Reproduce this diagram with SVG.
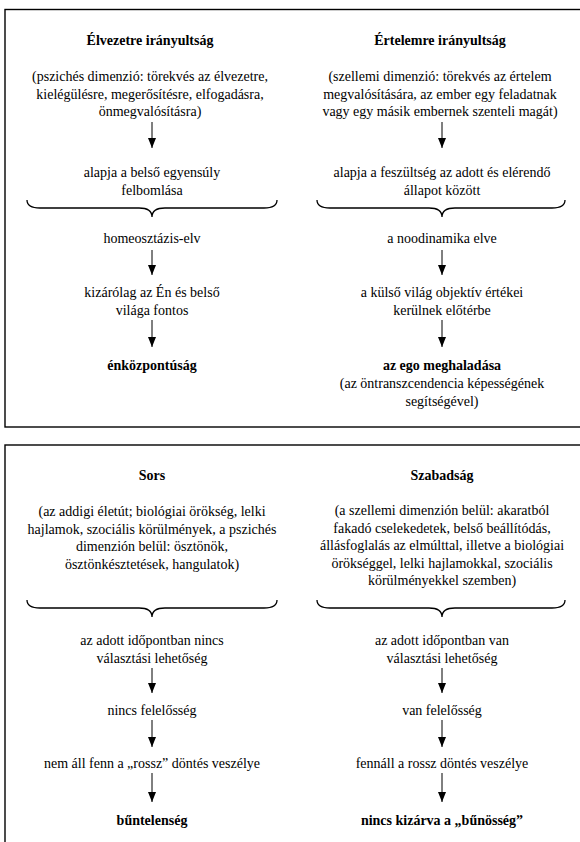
<svg xmlns="http://www.w3.org/2000/svg" width="580" height="842" viewBox="0 0 580 842">
<style>
text{font-family:"Liberation Serif","Times New Roman",serif;font-size:14px;fill:#000;text-anchor:middle}
.b{font-weight:bold}
.frame{fill:none;stroke:#000;stroke-width:1.4}
.brace{fill:none;stroke:#000;stroke-width:1.3}
.arr{stroke:#000;stroke-width:1;marker-end:url(#ah)}
</style>
<defs>
<marker id="ah" viewBox="0 0 10 8" refX="10" refY="4" markerWidth="10" markerHeight="8" markerUnits="userSpaceOnUse" orient="auto">
<path d="M0,0 L10,4 L0,8 Z" fill="#000"/>
</marker>
</defs>
<rect x="0" y="0" width="580" height="842" fill="#fff"/>
<g id="frames">
<rect class="frame" x="5" y="9.5" width="600" height="417.5"/>
<rect class="frame" x="5" y="445" width="600" height="420"/>
</g>
<g id="connectors">
<path class="brace" d="M27,200 Q27,208 40,208 L139,208 Q152,208 152,217 Q152,208 165,208 L264,208 Q277,208 277,200"/>
<path class="brace" d="M317,200 Q317,208 330,208 L429,208 Q442,208 442,217 Q442,208 455,208 L552,208 Q565,208 565,200"/>
<path class="brace" d="M27,600 Q27,608 40,608 L139,608 Q152,608 152,617 Q152,608 165,608 L264,608 Q277,608 277,600"/>
<path class="brace" d="M317,600 Q317,608 330,608 L429,608 Q442,608 442,617 Q442,608 455,608 L552,608 Q565,608 565,600"/>
<line class="arr" x1="152" y1="122" x2="152" y2="148"/>
<line class="arr" x1="152" y1="250" x2="152" y2="275"/>
<line class="arr" x1="152" y1="320" x2="152" y2="347"/>
<line class="arr" x1="442" y1="122" x2="442" y2="148"/>
<line class="arr" x1="442" y1="250" x2="442" y2="275"/>
<line class="arr" x1="442" y1="320" x2="442" y2="347"/>
<line class="arr" x1="152" y1="668" x2="152" y2="693"/>
<line class="arr" x1="152" y1="720" x2="152" y2="747"/>
<line class="arr" x1="152" y1="773" x2="152" y2="802"/>
<line class="arr" x1="442" y1="668" x2="442" y2="693"/>
<line class="arr" x1="442" y1="720" x2="442" y2="747"/>
<line class="arr" x1="442" y1="773" x2="442" y2="802"/>
</g>
<g id="n-elvezet-title"><text class="b" x="150" y="45">Élvezetre irányultság</text></g>
<g id="n-elvezet-desc"><text x="150" y="81">(pszichés dimenzió: törekvés az élvezetre,</text><text x="150" y="98.5">kielégülésre, megerősítésre, elfogadásra,</text><text x="150" y="116">önmegvalósításra)</text></g>
<g id="n-elvezet-alap"><text x="152" y="177">alapja a belső egyensúly</text><text x="152" y="195">felbomlása</text></g>
<g id="n-homeo"><text x="152" y="243">homeosztázis-elv</text></g>
<g id="n-kizar"><text x="152" y="297">kizárólag az Én és belső</text><text x="152" y="315">világa fontos</text></g>
<g id="n-enkozp"><text class="b" x="152" y="370">énközpontúság</text></g>
<g id="n-ertelem-title"><text class="b" x="440" y="45">Értelemre irányultság</text></g>
<g id="n-ertelem-desc"><text x="440" y="81">(szellemi dimenzió: törekvés az értelem</text><text x="440" y="98.5">megvalósítására, az ember egy feladatnak</text><text x="440" y="116">vagy egy másik embernek szenteli magát)</text></g>
<g id="n-ertelem-alap"><text x="442" y="177">alapja a feszültség az adott és elérendő</text><text x="442" y="195">állapot között</text></g>
<g id="n-noo"><text x="442" y="243">a noodinamika elve</text></g>
<g id="n-kulso"><text x="442" y="297">a külső világ objektív értékei</text><text x="442" y="315">kerülnek előtérbe</text></g>
<g id="n-ego"><text class="b" x="442" y="370">az ego meghaladása</text><text x="442" y="388">(az öntranszcendencia képességének</text><text x="442" y="406">segítségével)</text></g>
<g id="n-sors-title"><text class="b" x="152" y="480">Sors</text></g>
<g id="n-sors-desc"><text x="152" y="516">(az addigi életút; biológiai örökség, lelki</text><text x="152" y="533.5">hajlamok, szociális körülmények, a pszichés</text><text x="152" y="551">dimenzión belül: ösztönök,</text><text x="152" y="568.5">ösztönkésztetések, hangulatok)</text></g>
<g id="n-sors-1"><text x="152" y="645">az adott időpontban nincs</text><text x="152" y="663">választási lehetőség</text></g>
<g id="n-sors-2"><text x="152" y="715">nincs felelősség</text></g>
<g id="n-sors-3"><text x="152" y="768">nem áll fenn a „rossz” döntés veszélye</text></g>
<g id="n-sors-4"><text class="b" x="152" y="825">bűntelenség</text></g>
<g id="n-szab-title"><text class="b" x="442" y="480">Szabadság</text></g>
<g id="n-szab-desc"><text x="442" y="515">(a szellemi dimenzión belül: akaratból</text><text x="442" y="532.5">fakadó cselekedetek, belső beállítódás,</text><text x="442" y="550">állásfoglalás az elmúlttal, illetve a biológiai</text><text x="442" y="567.5">örökséggel, lelki hajlamokkal, szociális</text><text x="442" y="585">körülményekkel szemben)</text></g>
<g id="n-szab-1"><text x="442" y="645">az adott időpontban van</text><text x="442" y="663">választási lehetőség</text></g>
<g id="n-szab-2"><text x="442" y="715">van felelősség</text></g>
<g id="n-szab-3"><text x="442" y="768">fennáll a rossz döntés veszélye</text></g>
<g id="n-szab-4"><text class="b" x="442" y="825">nincs kizárva a „bűnösség”</text></g>
</svg>
